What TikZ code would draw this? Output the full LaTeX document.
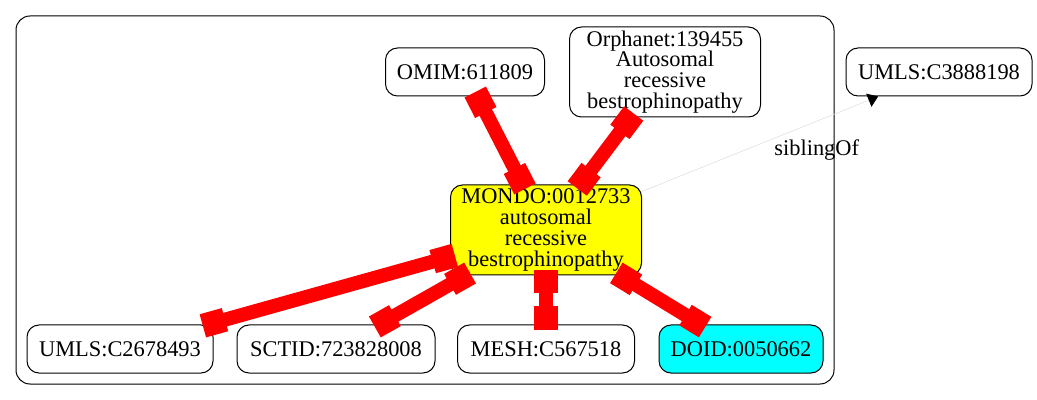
\documentclass[tikz,border=0pt]{standalone}
\usepackage{fontspec}
\setmainfont{Liberation Serif}
\usetikzlibrary{arrows.meta}
\definecolor{mondofill}{RGB}{255,255,0}
\definecolor{doidfill}{RGB}{0,255,255}
\begin{document}
\begin{tikzpicture}[x=0.5pt, y=-0.5pt,
    term/.style={draw, rounded corners=6pt, line width=0.5pt, inner sep=0pt, align=center, font=\fontsize{11.2}{10.4}\selectfont},
    xref/.style={draw=red, line width=7pt, {Rectangle[length=11.5pt,width=12pt]}-{Rectangle[length=11.5pt,width=12pt]}, shorten <=-2.5pt, shorten >=-2.5pt}]
    \useasboundingbox (0,0) rectangle (1037,400);
    %\draw[help lines] (0,0) grid[step=50] (1037,400);
    \draw[rounded corners=7pt, line width=0.5pt] (16,16) rectangle (834,384);
    \node[term, fill=mondofill, minimum width=95.5pt, minimum height=45pt] (mondo) at (546,230) {MONDO:0012733\\autosomal\\recessive\\bestrophinopathy};
    \node[term, minimum width=79.5pt, minimum height=24pt] (omim) at (465,72) {OMIM:611809};
    \node[term, minimum width=95.5pt, minimum height=45pt] (orpha) at (665,72) {Orphanet:139455\\Autosomal\\recessive\\bestrophinopathy};
    \node[term, minimum width=93pt, minimum height=24pt] (umlsB) at (939,72) {UMLS:C3888198};
    \node[term, minimum width=93pt, minimum height=24pt] (umlsA) at (120,349) {UMLS:C2678493};
    \node[term, minimum width=99pt, minimum height=24pt] (sctid) at (336,349) {SCTID:723828008};
    \node[term, minimum width=88.5pt, minimum height=24pt] (mesh) at (546,349) {MESH:C567518};
    \node[term, fill=doidfill, minimum width=82pt, minimum height=24pt] (doid) at (741,349) {DOID:0050662};
    \draw[xref] (omim) -- (mondo);
    \draw[xref] (orpha) -- (mondo);
    \draw[xref] (mondo) -- (umlsA);
    \draw[xref] (mondo) -- (sctid);
    \draw[xref] (mondo) -- (mesh);
    \draw[xref] (mondo) -- (doid);
    \draw[gray!25, line width=0.3pt, -{Triangle[length=5pt,width=7pt,color=black]}] (mondo) -- node[pos=0.74, below=9pt, inner sep=0pt, text=black, font=\fontsize{11.2}{10.4}\selectfont] {siblingOf} (umlsB);
\end{tikzpicture}
\end{document}
